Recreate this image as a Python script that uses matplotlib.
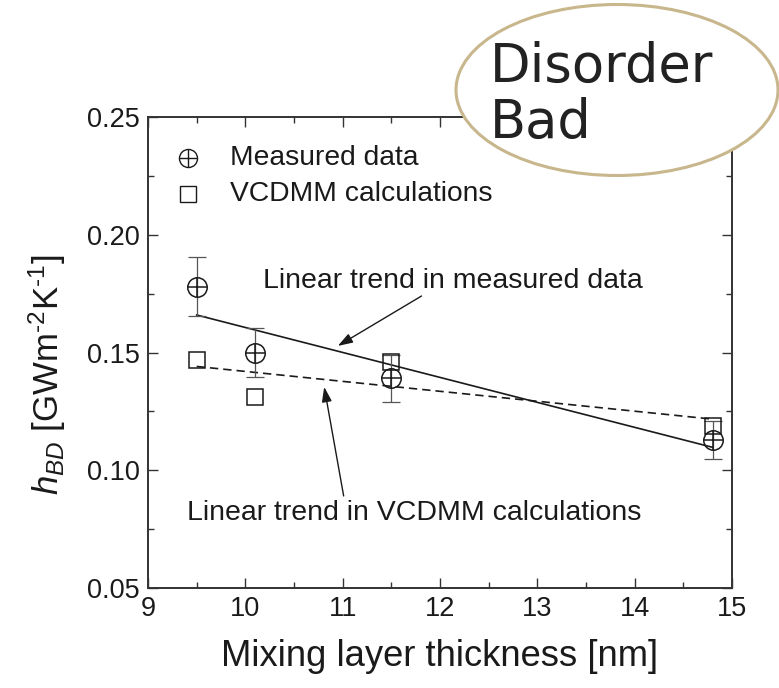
import numpy as np
import matplotlib
matplotlib.use('Agg')
import matplotlib.pyplot as plt
from matplotlib.patches import Ellipse
from matplotlib.ticker import MultipleLocator

plt.rcParams['font.family'] = ['Liberation Sans', 'DejaVu Sans']
plt.rcParams['mathtext.fontset'] = 'custom'
plt.rcParams['mathtext.rm'] = 'Liberation Sans'
plt.rcParams['mathtext.it'] = 'Liberation Sans:italic'

# mixing layer thickness [nm]
thickness = [9.5, 10.1, 11.5, 14.8]
# measured thermal boundary conductance and its error
h_measured = [0.178, 0.150, 0.139, 0.113]
h_err = [0.0125, 0.0105, 0.010, 0.008]
# VCDMM calculations
h_vcdmm = [0.147, 0.131, 0.146, 0.119]

fig = plt.figure(figsize=(7.79, 6.88), dpi=100)
ax = fig.add_axes([0.19, 0.1453, 0.7497, 0.6846])

ink = '#1a1a1a'

# linear trends
x = np.array(thickness)
p_meas = np.polyfit(x, h_measured, 1)
p_calc = np.polyfit(x, h_vcdmm, 1)
xs = np.array([x.min(), x.max()])
ax.plot(xs, np.polyval(p_meas, xs), '-', color=ink, lw=1.2, zorder=2)
ax.plot(xs, np.polyval(p_calc, xs), '--', color=ink, lw=1.2, dashes=(5, 3), zorder=2)

# measured data with error bars (circle with a cross)
ax.errorbar(thickness, h_measured, yerr=h_err, fmt='none', ecolor='#555555',
            elinewidth=0.9, capsize=6.5, capthick=0.9, zorder=3)
ax.plot(thickness, h_measured, 'o', ms=14, mfc='none', mec=ink, mew=1.1, zorder=4)
ax.plot(thickness, h_measured, '+', ms=14, mec=ink, mew=1.1, zorder=4)

# VCDMM calculations
ax.plot(thickness, h_vcdmm, 's', ms=12, mfc='none', mec=ink, mew=1.1, zorder=4)

# legend drawn by hand
ax.plot([9.41], [0.2325], 'o', ms=13, mfc='none', mec=ink, mew=1.0)
ax.plot([9.41], [0.2325], '+', ms=13, mec=ink, mew=1.0)
ax.plot([9.41], [0.2172], 's', ms=11, mfc='none', mec=ink, mew=1.0)
ax.text(9.84, 0.2325, 'Measured data', fontsize=20.3, va='center', ha='left', color=ink)
ax.text(9.84, 0.2172, 'VCDMM calculations', fontsize=20.3, va='center', ha='left', color=ink)

# annotations for the trend lines
ax.text(12.13, 0.1804, 'Linear trend in measured data', fontsize=20.5,
        ha='center', va='center', color=ink)
ax.annotate('', xy=(10.95, 0.1528), xytext=(11.81, 0.174),
            arrowprops=dict(arrowstyle='-|>,head_length=0.9,head_width=0.3',
                            color=ink, lw=1.0, shrinkA=0, shrinkB=0))
ax.text(11.73, 0.0818, 'Linear trend in VCDMM calculations', fontsize=20.5,
        ha='center', va='center', color=ink)
ax.annotate('', xy=(10.81, 0.1354), xytext=(11.01, 0.0891),
            arrowprops=dict(arrowstyle='-|>,head_length=0.9,head_width=0.3',
                            color=ink, lw=1.0, shrinkA=0, shrinkB=0))

ax.set_xlim(9, 15)
ax.set_ylim(0.05, 0.25)
ax.xaxis.set_major_locator(MultipleLocator(1))
ax.xaxis.set_minor_locator(MultipleLocator(0.5))
ax.yaxis.set_major_locator(MultipleLocator(0.05))
ax.yaxis.set_minor_locator(MultipleLocator(0.025))
ax.set_yticklabels(['%.2f' % v for v in ax.get_yticks()])
ax.tick_params(which='both', direction='in', top=True, right=True,
               labelsize=19.5, width=1.0, color='#333333', labelcolor=ink)
ax.tick_params(which='major', length=7, pad=6)
ax.tick_params(which='minor', length=4)
for s in ax.spines.values():
    s.set_linewidth(1.4)
    s.set_color('#333333')

ax.set_xlabel('Mixing layer thickness [nm]', fontsize=26.2, color=ink, labelpad=12)
ax.set_ylabel('$h_{BD}$ [GWm$^{\u20102}$K$^{\u20101}$]', fontsize=25, color=ink)
ax.yaxis.set_label_coords(-0.137, 0.452)

# "Disorder / Bad" badge on top of the figure
badge = Ellipse((617 / 779, 1 - 90 / 688), 322 / 779, 171 / 688,
                transform=fig.transFigure, facecolor='white',
                edgecolor='#c8b68c', lw=2.2, zorder=10)
fig.patches.append(badge)
fig.text(490 / 779, 1 - 82 / 688, 'Disorder', family='DejaVu Sans', fontsize=38,
         color='#222222', ha='left', va='baseline', zorder=11)
fig.text(490 / 779, 1 - 138 / 688, 'Bad', family='DejaVu Sans', fontsize=38,
         color='#222222', ha='left', va='baseline', zorder=11)

fig.savefig('out.png', dpi=100)
